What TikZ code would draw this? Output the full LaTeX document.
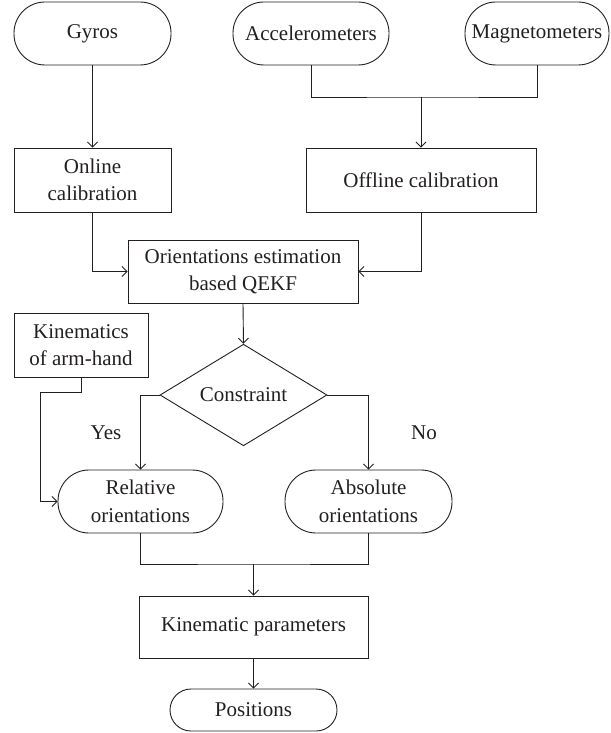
\documentclass[tikz,border=0pt]{standalone}
\usepackage{fontspec}
\setmainfont{Liberation Serif}
\usetikzlibrary{arrows.meta,shapes.geometric}
\definecolor{ink}{RGB}{35,31,32}
\begin{document}
\begin{tikzpicture}[x=1pt,y=-1pt,
  every node/.style={font=\fontsize{21}{27.5}\selectfont, text=ink, inner sep=0pt, align=center},
  rbox/.style={draw=ink, line width=0.9pt, rectangle},
  pill/.style={draw=ink, line width=0.9pt, rectangle, rounded corners=#1},
  pill/.default=31pt,
  dec/.style={draw=ink, line width=0.9pt, diamond},
  conn/.style={draw=ink, line width=0.9pt},
  arr/.style={conn, -{Straight Barb[length=5pt,width=10pt]}}]
\useasboundingbox (0,0) rectangle (610,733);
% nodes
\node[pill, minimum width=157pt, minimum height=63pt] (gyros) at (92.5,33.5) {Gyros};
\node[pill, minimum width=156pt, minimum height=63pt] (accel) at (311,33.5) {Accelerometers};
\node[pill, minimum width=144pt, minimum height=63pt] (magnet) at (537,33.5) {Magnetometers};
\node[rbox, minimum width=157pt, minimum height=64pt] (online) at (92.5,180) {Online\\calibration};
\node[rbox, minimum width=230pt, minimum height=64pt] (offline) at (421,180) {Offline calibration};
\node[rbox, minimum width=230pt, minimum height=63pt] (orient) at (243,271.5) {Orientations estimation\\based QEKF};
\node[rbox, minimum width=134pt, minimum height=64pt] (kin) at (81,345) {Kinematics\\of arm-hand};
\node[dec, minimum width=167pt, minimum height=100pt] (constr) at (243.5,395) {Constraint};
\node[pill, minimum width=165pt, minimum height=63pt] (rel) at (140.5,501.5) {Relative\\orientations};
\node[pill, minimum width=167pt, minimum height=63pt] (abs) at (368.5,501.5) {Absolute\\orientations};
\node[rbox, minimum width=229pt, minimum height=62pt] (kpar) at (253.5,627) {Kinematic parameters};
\node[pill=21pt, minimum width=167pt, minimum height=42pt] (pos) at (253.5,710) {Positions};
\node (yes) at (106,433) {Yes};
\node (no) at (424,433) {No};
% coordinates
\coordinate (j1) at (421,97);
\coordinate (j2) at (253.5,564);
\coordinate (kb) at (40,392);
% connectors
\draw[arr] (gyros.south) -- (online.north);
\draw[conn] (accel.south) |- (j1) -| (magnet.south);
\draw[arr] (j1) -- (offline.north);
\draw[arr] (online.south) |- (orient.west);
\draw[arr] (offline.south) |- (orient.east);
\draw[arr] (orient.south) -- (constr.north);
\draw[arr] (constr.west) -| (rel.north);
\draw[arr] (constr.east) -| (abs.north);
\draw[arr] (kin.south) |- (kb) |- (rel.west);
\draw[conn] (rel.south) |- (j2) -| (abs.south);
\draw[arr] (j2) -- (kpar.north);
\draw[arr] (kpar.south) -- (pos.north);
\end{tikzpicture}
\end{document}
